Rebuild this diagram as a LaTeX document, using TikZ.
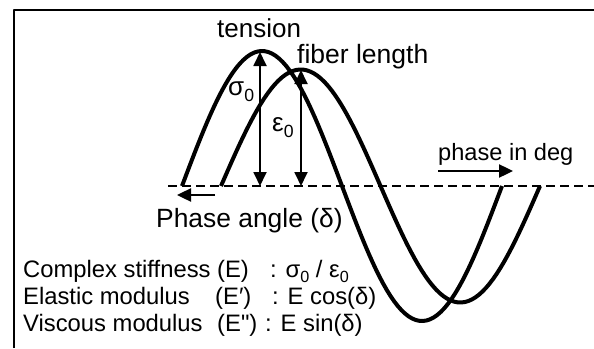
\documentclass[tikz,border=0pt]{standalone}
\usepackage{fontspec}
\setmainfont{Liberation Sans}[Ligatures=TeXOff]
\usetikzlibrary{arrows.meta}
\newcommand\lowsub[1]{\raisebox{-0.45ex}{\scalebox{0.68}{#1}}}

\begin{document}
\begin{tikzpicture}[x=1pt,y=-1pt,line join=round,>={Triangle[length=14pt,width=13pt]},
  wave/.style={line width=4pt},
  dim/.style={line width=1.8pt,<->},
  phasearrow/.style={line width=2.4pt,->},
  lbl/.style={inner sep=0pt,anchor=base west,font=\fontsize{26}{30}\selectfont},
  eq/.style={inner sep=0pt,anchor=base west,font=\fontsize{23.8}{28}\selectfont}]
  \useasboundingbox (0,0) rectangle (594,348);
  % frame
  \draw[line width=2pt] (14,348) -- (14,9.5) -- (594,9.5);
  % zero line
  \draw[line width=1.5pt,dash pattern=on 9pt off 5pt] (168,186) -- (594,186);
  % tension and fiber length
  \draw[wave] plot[domain=0:320,samples=90] ({182+\x},{186-135*sin(\x*1.125)});
  \draw[wave] plot[domain=0:319,samples=90] ({221+\x},{186-116.5*sin(\x*1.1285)});
  % amplitudes
  \coordinate (stop) at (260,52);
  \coordinate (sbot) at (260,186);
  \coordinate (etop) at (301,70);
  \coordinate (ebot) at (301,186);
  \draw[dim] (stop) -- (sbot);
  \draw[dim] (etop) -- (ebot);
  % phase arrows
  \coordinate (dfrom) at (438,171);
  \coordinate (dto) at (513,171);
  \draw[phasearrow] (dfrom) -- (dto);
  \coordinate (afrom) at (215,195);
  \coordinate (ato) at (177,195);
  \draw[phasearrow] (afrom) -- (ato);
  % labels
  \node[lbl] (tension) at (217,37) {tension};
  \node[lbl,font=\fontsize{26.5}{30}\selectfont] (fiber) at (297,63) {fiber length};
  \node[lbl] (sigma) at (228,95) {σ\lowsub{0}};
  \node[lbl] (eps) at (272,131) {ε\lowsub{0}};
  \node[lbl,font=\fontsize{23.6}{28}\selectfont] (deg) at (438,160) {phase in deg};
  \node[lbl,font=\fontsize{26.4}{30}\selectfont] (angle) at (156,227) {Phase angle (δ)};
  % moduli
  \node[eq] (cs) at (23,277) {Complex stiffness (E)};
  \node[eq] (csv) at (270,277) {: σ\lowsub{0} / ε\lowsub{0}};
  \node[eq] (em) at (23,304) {Elastic modulus};
  \node[eq] (emn) at (215,304) {(E′)};
  \node[eq] (emv) at (272,304) {: E cos(δ)};
  \node[eq] (vm) at (23,331) {Viscous modulus};
  \node[eq] (vmn) at (217,331) {(E")};
  \node[eq] (vmv) at (265,331) {: E sin(δ)};
\end{tikzpicture}
\end{document}
